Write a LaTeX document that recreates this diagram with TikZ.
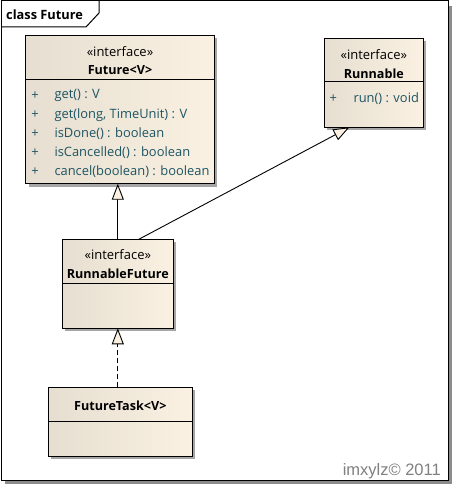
\documentclass[tikz,border=0pt]{standalone}
\usepackage{xcolor}
\usepackage{fontspec}
\setmainfont{Open Sans}
\newfontfamily\markfont{Liberation Sans}
\usetikzlibrary{arrows.meta,shadows,positioning}
\definecolor{boxleft}{RGB}{230,222,208}
\definecolor{boxright}{RGB}{250,241,226}
\definecolor{optext}{RGB}{30,85,100}

\begin{document}
\begin{tikzpicture}[x=1pt,y=-1pt,
	umlbox/.style={draw=black, line width=1pt, left color=boxleft, right color=boxright, inner sep=0pt, outer sep=0pt, anchor=north west,
		drop shadow={shadow xshift=3pt, shadow yshift=-3pt, fill=black!35, opacity=1}},
	stereo/.style={font=\fontsize{13}{15}\selectfont, inner sep=0pt},
	classname/.style={font=\fontsize{12.6}{15}\selectfont\bfseries, inner sep=0pt},
	op/.style={font=\fontsize{12.9}{15}\selectfont, text=optext, inner sep=0pt, anchor=west},
	realize/.style={line width=0.9pt, -{Triangle[length=16pt, width=12pt, fill=boxright, line width=0.9pt]}}]
	\useasboundingbox (0,0) rectangle (453,486);
	\fill [black!45] (5,6) rectangle (452,484);
	\draw [line width=1pt, fill=white] (1,1) rectangle (448,480);
	\draw [line width=1pt] (1,27) -- (86,27) -- (99,13) -- (99,1);
	\node [classname, font=\fontsize{12.8}{15}\selectfont\bfseries, anchor=west] (frametitle) at (6,15) {class Future};
	\node [umlbox, minimum width=188.6pt, minimum height=148.4pt] (fut) at (25.7,35.3) {};
	\draw ([yshift=-44pt]fut.north west) -- ([yshift=-44pt]fut.north east);
	\node [stereo] (futst) at ([yshift=-16.4pt]fut.north) {«interface»};
	\node [classname] (futname) at ([yshift=-34.7pt]fut.north) {Future<V>};
	\foreach \m [count=\i] in {get() : V, {get(long, TimeUnit) : V}, isDone() : boolean, isCancelled() : boolean, cancel(boolean) : boolean} {
		\node [op, anchor=center] (futplus\i) at (35,76.7+19*\i) {+};
		\node [op] (futop\i) at (54.3,76.7+19*\i) {\m};
	}
	\node [umlbox, minimum width=99pt, minimum height=89pt] (run) at (324.3,38.3) {};
	\draw ([yshift=-43.4pt]run.north west) -- ([yshift=-43.4pt]run.north east);
	\node [stereo] (runst) at ([yshift=-16pt]run.north) {«interface»};
	\node [classname] (runname) at ([yshift=-35pt]run.north) {Runnable};
	\node [op, anchor=center] (runplus) at (333.3,98.3) {+};
	\node [op] (runop) at (353.3,98.3) {run() : void};
	\node [umlbox, minimum width=111pt, minimum height=89pt] (rf) at (62.3,239.3) {};
	\draw ([yshift=-44pt]rf.north west) -- ([yshift=-44pt]rf.north east);
	\node [stereo] (rfst) at ([yshift=-15.7pt]rf.north) {«interface»};
	\node [classname] (rfname) at ([yshift=-34.7pt]rf.north) {RunnableFuture};
	\node [umlbox, minimum width=144pt, minimum height=68.7pt] (ft) at (48.3,387.3) {};
	\draw ([yshift=-33.4pt]ft.north west) -- ([yshift=-33.4pt]ft.north east);
	\node [classname] (ftname) at ([yshift=-18.7pt]ft.north) {FutureTask<V>};
	\draw [realize] (rf.north) -- (rf.north |- fut.south);
	\draw [realize] ([xshift=21pt]rf.north) -- ([xshift=-24.5pt]run.south);
	\draw [realize, dash pattern=on 5pt off 3pt] (ft.north -| rf.north) -- (rf.south);
	\node [font=\markfont\fontsize{16.5}{18}\selectfont, text=black!50, anchor=east, inner sep=0pt] (mark) at (441,471.7) {imxylz© 2011};
\end{tikzpicture}
\end{document}
